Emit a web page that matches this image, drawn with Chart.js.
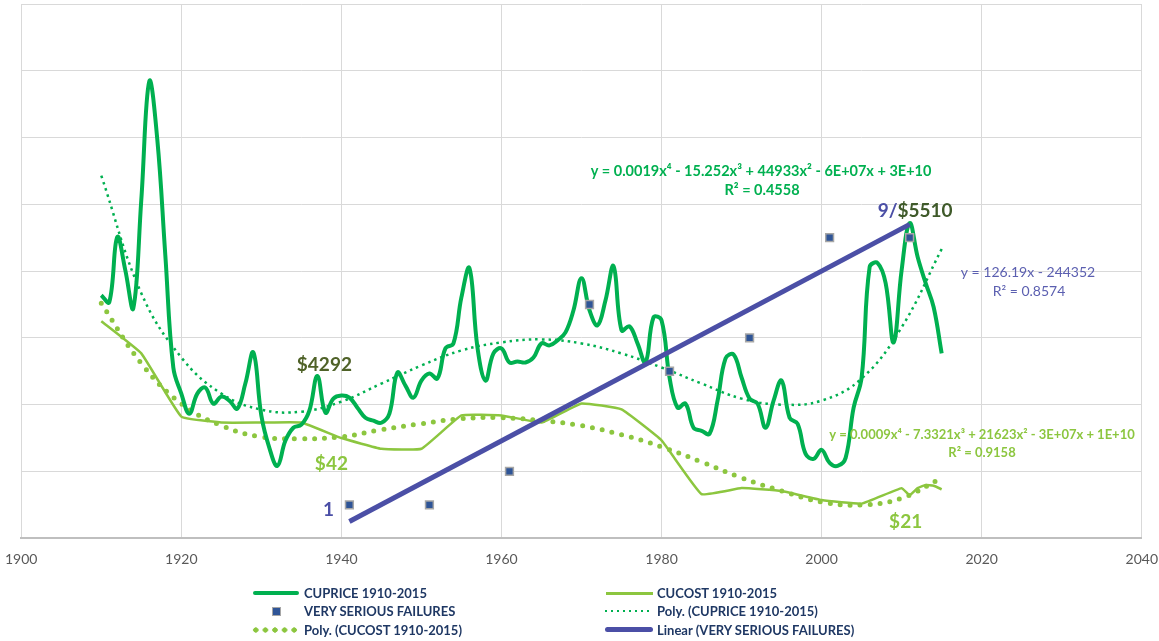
<!DOCTYPE html>
<html>
<head>
<meta charset="utf-8">
<script src="https://cdn.jsdelivr.net/npm/chart.js@4/dist/chart.umd.min.js"></script>
<style>
  body { margin: 0; background: #fff; }
  #wrap { position: relative; width: 1159px; height: 641px; overflow: hidden; }
  #cv { position: absolute; left: -8px; top: -3px; width: 1179px; height: 641px; }
  .lg { position: absolute; font: bold 13px Lato, "Liberation Sans", sans-serif; color: #1f3864; white-space: nowrap; line-height: 16px; }
  .sw { position: absolute; }
</style>
</head>
<body>
<div id="wrap">
  <div id="cv"><canvas id="copper_chart"></canvas></div>
</div>
<script>
// yearly copper price, 1910-2015 ($)
const priceYears = [
  1910, 1911, 1912, 1913, 1914, 1915, 1916, 1917, 1918, 1919,
  1920, 1921, 1922, 1923, 1924, 1925, 1926, 1927, 1928, 1929,
  1930, 1931, 1932, 1933, 1934, 1935, 1936, 1937, 1938, 1939,
  1940, 1941, 1942, 1943, 1944, 1945, 1946, 1947, 1948, 1949,
  1950, 1951, 1952, 1953, 1954, 1955, 1956, 1957, 1958, 1959,
  1960, 1961, 1962, 1963, 1964, 1965, 1966, 1967, 1968, 1969,
  1970, 1971, 1972, 1973, 1974, 1975, 1976, 1977, 1978, 1979,
  1980, 1981, 1982, 1983, 1984, 1985, 1986, 1987, 1988, 1989,
  1990, 1991, 1992, 1993, 1994, 1995, 1996, 1997, 1998, 1999,
  2000, 2001, 2002, 2003, 2004, 2005, 2006, 2007, 2008, 2009,
  2010, 2011, 2012, 2013, 2014, 2015
];
const cuprice = [
  4936, 4880, 5400, 5136, 4832, 5696, 6640, 6176, 5256, 4360,
  4152, 3992, 4152, 4200, 4072, 4128, 4096, 4032, 4232, 4480,
  3976, 3720, 3576, 3776, 3880, 3904, 4016, 4292, 4000, 4112,
  4136, 4120, 4040, 3960, 3936, 3920, 3992, 4320, 4216, 4120,
  4256, 4312, 4272, 4512, 4552, 4920, 5152, 4520, 4256, 4472,
  4512, 4400, 4408, 4400, 4440, 4552, 4536, 4576, 4640, 4816,
  5072, 4816, 4696, 4896, 5168, 4656, 4688, 4552, 4400, 4760,
  4736, 4280, 4040, 4072, 3880, 3856, 3832, 4096, 4432, 4464,
  4280, 4112, 4072, 3880, 4096, 4256, 3960, 3912, 3672, 3632,
  3704, 3600, 3576, 3640, 4040, 4280, 5160, 5192, 5032, 4560,
  5136, 5510, 5240, 5032, 4840, 4472
];

// copper cost ($)
const costYears = [1910, 1915, 1920, 1925, 1930, 1935, 1940, 1945, 1950, 1955,
  1960, 1965, 1970, 1975, 1980, 1985, 1990, 1995, 2000, 2005,
  2010, 2011, 2012, 2013, 2014, 2015];
const cucost = [91, 77.5, 51, 48.5, 48.5, 48.5, 42, 37.5, 37.5, 51.5,
  51.5, 48.5, 56.5, 54, 41, 18.5, 21, 19.8, 16, 14.5,
  21, 18, 21, 22.3, 22, 20.5];

// polynomial trend lines, every 5 years
const trendYears = [1910, 1915, 1920, 1925, 1930, 1935, 1940, 1945, 1950, 1955, 1960,
  1965, 1970, 1975, 1980, 1985, 1990, 1995, 2000, 2005, 2010, 2015];
const polyPrice = [5888, 4952, 4440, 4152, 4024, 4008, 4088, 4232, 4376, 4496, 4560,
  4584, 4552, 4472, 4360, 4232, 4112, 4064, 4096, 4272, 4680, 5304];
const polyCost = [98.5, 73.3, 56.4, 47.2, 42.5, 41.7, 42.5, 45.5, 48, 50.1, 50.5,
  49.3, 47.2, 43.4, 38.3, 32, 25.3, 19.8, 15.2, 13.9, 16.8, 25.3];

// very serious failures per decade
const failYears = [1941, 1951, 1961, 1971, 1981, 1991, 2001, 2011];
const failures = [1, 1, 2, 7, 5, 6, 9, 9];
const linearYears = [1941, 2011];
const linearFail = [0.5, 9.4];

const xTicks = [1900, 1920, 1940, 1960, 1980, 2000, 2020, 2040];

const GREEN = "#00b050";
const LIGHT = "#8cc63f";
const BLUE = "#4b4fa6";

function pts(xs, ys) { return xs.map((x, i) => ({ x: x, y: ys[i] })); }

const labelPlugin = {
  id: "labels",
  afterDatasetsDraw(chart) {
    const ctx = chart.ctx;
    const sx = chart.scales.x, sp = chart.scales.yPrice, sc = chart.scales.yCost, sf = chart.scales.y;
    ctx.save();
    ctx.textBaseline = "middle";
    ctx.textAlign = "center";
    ctx.font = "bold 19px Lato";
    ctx.fillStyle = "#4f6228";
    ctx.fillText("$4292", sx.getPixelForValue(1937) + 7, sp.getPixelForValue(4292) - 11);
    ctx.fillStyle = LIGHT;
    ctx.fillText("$42", sx.getPixelForValue(1940) - 10, sc.getPixelForValue(42) + 26);
    ctx.fillText("$21", sx.getPixelForValue(2011) - 4, sc.getPixelForValue(18) + 27);
    ctx.fillStyle = BLUE;
    ctx.fillText("1", sx.getPixelForValue(1941) - 21, sf.getPixelForValue(1) + 5);
    // 9/$5510 in two colours
    ctx.textAlign = "left";
    const lx = sx.getPixelForValue(2011) - 32, ly = sp.getPixelForValue(5510) - 12;
    ctx.fillStyle = BLUE;
    ctx.fillText("9/", lx, ly);
    ctx.fillStyle = "#3f5a2a";
    ctx.fillText("$5510", lx + ctx.measureText("9/").width, ly);

    // trend line equations, placed in page coordinates
    ctx.translate(8, 3);
    ctx.textAlign = "center";
    ctx.font = "bold 14.5px Lato";
    ctx.fillStyle = GREEN;
    ctx.fillText("y = 0.0019x\u2074 - 15.252x\u00b3 + 44933x\u00b2 - 6E+07x + 3E+10", 761, 171);
    ctx.fillText("R\u00b2 = 0.4558", 762, 190);
    ctx.font = "bold 13px Lato";
    ctx.fillStyle = LIGHT;
    ctx.fillText("y = 0.0009x\u2074 - 7.3321x\u00b3 + 21623x\u00b2 - 3E+07x + 1E+10", 982, 435);
    ctx.fillText("R\u00b2 = 0.9158", 982, 453);
    ctx.font = "14px Lato";
    ctx.fillStyle = "#5b5fb0";
    ctx.fillText("y = 126.19x - 244352", 1028, 272);
    ctx.fillText("R\u00b2 = 0.8574", 1029, 291);
    ctx.restore();
  }
};

new Chart("copper_chart", {
  type: "line",
  data: {
    datasets: [
      { label: "Linear (VERY SERIOUS FAILURES)", data: pts(linearYears, linearFail), yAxisID: "y",
        borderColor: BLUE, borderWidth: 5, pointRadius: 0, order: 0 },
      { label: "VERY SERIOUS FAILURES", data: pts(failYears, failures), yAxisID: "y", showLine: false,
        pointStyle: "rect", pointRadius: 5.5, backgroundColor: "#2f5597", borderColor: "#a6a6a6",
        pointBorderWidth: 1.5, order: 1 },
      { label: "CUPRICE 1910-2015", data: pts(priceYears, cuprice), yAxisID: "yPrice",
        borderColor: GREEN, borderWidth: 4, pointRadius: 0, tension: 0.4, order: 2 },
      { label: "Poly. (CUPRICE 1910-2015)", data: pts(trendYears, polyPrice), yAxisID: "yPrice",
        borderColor: GREEN, borderWidth: 2.5, borderDash: [2.5, 4], pointRadius: 0, tension: 0.4, order: 3 },
      { label: "CUCOST 1910-2015", data: pts(costYears, cucost), yAxisID: "yCost",
        borderColor: LIGHT, borderWidth: 2.5, pointRadius: 0, tension: 0.1, order: 4 },
      { label: "Poly. (CUCOST 1910-2015)", data: pts(trendYears, polyCost), yAxisID: "yCost",
        borderColor: LIGHT, borderWidth: 5, borderDash: [0, 10], borderCapStyle: "round",
        pointRadius: 0, tension: 0.4, order: 5 }
    ]
  },
  options: {
    responsive: true,
    maintainAspectRatio: false,
    animation: false,
    layout: { padding: { left: 0, right: 0, top: 5, bottom: 57 } },
    plugins: { legend: { display: false }, tooltip: { enabled: false } },
    scales: {
      x: {
        type: "linear", min: 1900, max: 2040,
        afterBuildTicks: (s) => { s.ticks = xTicks.map(v => ({ value: v })); },
        ticks: { color: "#595959", font: { family: "Lato", size: 14 }, padding: 13, callback: (v) => String(v) },
        grid: { color: "#d9d9d9", drawTicks: false },
        border: { color: "#bfbfbf", width: 2 }
      },
      y: {
        min: 0, max: 16,
        ticks: { display: false, stepSize: 2 },
        grid: { color: "#d9d9d9", drawTicks: false },
        border: { display: false }
      },
      yPrice: { display: false, min: 3000, max: 7256 },
      yCost: { display: false, min: 0, max: 224 }
    }
  },
  plugins: [labelPlugin]
});
</script>

<!-- legend, two columns -->
<div class="sw" style="left:253px;top:591px;width:46px;height:4px;background:#00b050;border-radius:2px"></div>
<div class="lg" style="left:304px;top:585px">CUPRICE 1910-2015</div>
<div class="sw" style="left:272px;top:607px;width:7px;height:7px;background:#2f5597;border:1px solid #a6a6a6"></div>
<div class="lg" style="left:304px;top:603px">VERY SERIOUS FAILURES</div>
<div class="sw" style="left:251px;top:627px;width:48px;height:6px;background:radial-gradient(circle, #8cc63f 2.4px, transparent 2.9px) 0 0/9.6px 6px repeat-x"></div>
<div class="lg" style="left:304px;top:622px">Poly. (CUCOST 1910-2015)</div>

<div class="sw" style="left:606px;top:592px;width:47px;height:3px;background:#8cc63f"></div>
<div class="lg" style="left:657px;top:585px">CUCOST 1910-2015</div>
<div class="sw" style="left:605px;top:610px;width:48px;height:2px;background:repeating-linear-gradient(90deg, #00b050 0 2px, transparent 2px 6px)"></div>
<div class="lg" style="left:657px;top:603px">Poly. (CUPRICE 1910-2015)</div>
<div class="sw" style="left:605px;top:627px;width:48px;height:5px;background:#4b4fa6;border-radius:3px"></div>
<div class="lg" style="left:657px;top:622px">Linear (VERY SERIOUS FAILURES)</div>
</body>
</html>
